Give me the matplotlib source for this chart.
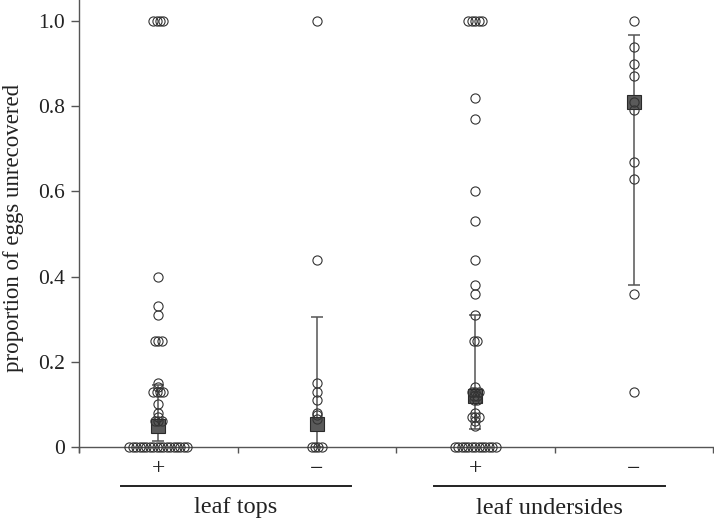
import matplotlib
matplotlib.use("Agg")
import matplotlib.pyplot as plt
import matplotlib.transforms as mtransforms
import numpy as np

plt.rcParams['font.family'] = ['Liberation Serif', 'DejaVu Serif']

# ---- data ----
category_labels = ["+", "\u2212", "+", "\u2212"]
group_labels = ["leaf tops", "leaf undersides"]

tops_plus = [0.0] * 18 + [0.06, 0.06, 0.06, 0.07, 0.08, 0.10, 0.13, 0.13, 0.13, 0.13,
                          0.14, 0.15, 0.25, 0.25, 0.25, 0.31, 0.33, 0.40, 1.0, 1.0, 1.0, 1.0]
tops_minus = [0.0] * 4 + [0.065, 0.075, 0.08, 0.11, 0.13, 0.15, 0.44, 1.0]
under_plus = [0.0] * 13 + [0.05, 0.06, 0.07, 0.07, 0.07, 0.08, 0.11, 0.11, 0.12, 0.12,
                           0.13, 0.13, 0.13, 0.14, 0.25, 0.25, 0.31, 0.36, 0.38, 0.44,
                           0.53, 0.60, 0.77, 0.82, 1.0, 1.0, 1.0, 1.0, 1.0]
under_minus = [1.0, 0.94, 0.90, 0.87, 0.81, 0.79, 0.67, 0.63, 0.36, 0.13]

means = [0.05, 0.055, 0.12, 0.81]
ci_low = [0.015, 0.0, 0.042, 0.38]
ci_high = [0.145, 0.305, 0.31, 0.967]

groups = [tops_plus, tops_minus, under_plus, under_minus]

# ---- figure ----
W, H = 714, 521
fig = plt.figure(figsize=(W / 100, H / 100), dpi=100)
ax_left, ax_right, ax_bottom_px = 79, 713, 452
ax = fig.add_axes([ax_left / W, (H - ax_bottom_px) / H, (ax_right - ax_left) / W, ax_bottom_px / H])

px_per_unit = 426.0
ax.set_ylim(-5 / px_per_unit, 447 / px_per_unit)
ax.set_xlim(-0.5, 3.5)

axis_col = '#555555'
pt_col = '#333333'
spacing = 0.0215

for i, vals in enumerate(groups):
    vals = np.asarray(vals)
    xs, ys = [], []
    for v in np.unique(vals):
        n = int(np.sum(vals == v))
        offs = (np.arange(n) - (n - 1) / 2) * spacing
        xs.extend(i + offs)
        ys.extend([v] * n)
    # error bar
    ax.errorbar([i], [means[i]],
                yerr=[[means[i] - ci_low[i]], [ci_high[i] - means[i]]],
                fmt='none', ecolor='#555555', elinewidth=1.1, capsize=4, capthick=1.1, zorder=2)
    ax.plot([i], [means[i]], marker='s', markersize=10.5, markerfacecolor='#5a5a5a',
            markeredgecolor='#2a2a2a', markeredgewidth=0.8, linestyle='none', zorder=3)
    ax.plot(xs, ys, marker='o', markersize=6.6, markerfacecolor='none',
            markeredgecolor=pt_col, markeredgewidth=0.8, linestyle='none', zorder=4,
            clip_on=False)

# spines
for s in ['top', 'right']:
    ax.spines[s].set_visible(False)
ax.spines['bottom'].set_position(('data', 0))
for s in ['left', 'bottom']:
    ax.spines[s].set_color(axis_col)
    ax.spines[s].set_linewidth(1.0)

ax.set_yticks([0, 0.2, 0.4, 0.6, 0.8, 1.0])
ax.set_yticklabels(['0', '0.2', '0.4', '0.6', '0.8', '1.0'])
ax.tick_params(axis='y', direction='out', length=6, width=1.0, color=axis_col,
               labelsize=15.5, pad=4, labelcolor='#222222')

ax.set_xticks([0, 1, 2, 3])
ax.set_xticklabels([])
ax.tick_params(axis='x', which='major', length=0)
ax.set_xticks([-0.5, 0.5, 1.5, 2.5, 3.5], minor=True)
ax.tick_params(axis='x', which='minor', direction='out', length=4, width=1.0, color=axis_col)

trans = mtransforms.blended_transform_factory(ax.transData, ax.transAxes)
axh = ax_bottom_px
def yfrac(py):
    return (axh - py) / axh

for i, lab in enumerate(category_labels):
    ax.text(i, yfrac(469), lab, transform=trans, ha='center', va='center',
            fontsize=17, color='#222222', clip_on=False)

for g, lab in enumerate(group_labels):
    c = 0.49 + 1.98 * g
    ax.plot([c - 0.728, c + 0.728], [yfrac(486), yfrac(486)], transform=trans,
            color='#222222', linewidth=1.4, clip_on=False)
    ax.text(c, yfrac(508), lab, transform=trans, ha='center', va='center',
            fontsize=17.5, color='#222222', clip_on=False)

fig.text(14 / W, 1 - 228 / H, 'proportion of eggs unrecovered', rotation=90,
         ha='center', va='center', fontsize=16.5, color='#222222')

fig.savefig('out.png', dpi=100)
